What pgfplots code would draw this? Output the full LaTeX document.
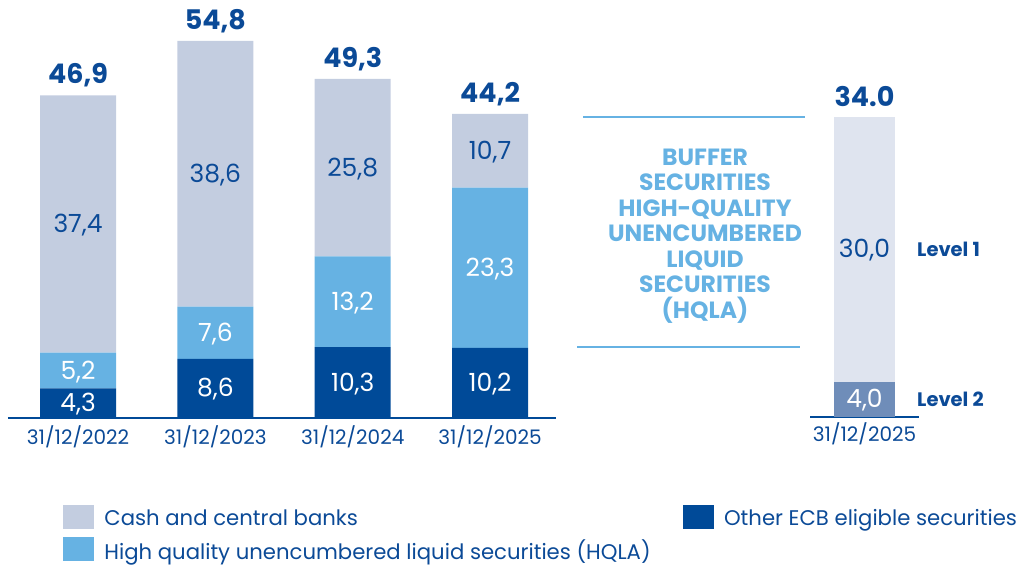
\documentclass[border=0pt]{standalone}
\usepackage{fontspec}
\setmainfont{Poppins}
\usepackage{pgfplots}
\pgfplotsset{compat=1.18}
\definecolor{cashc}{HTML}{C3CDE0}
\definecolor{hqlac}{HTML}{66B2E3}
\definecolor{ecbc}{HTML}{004A98}
\definecolor{lvlone}{HTML}{DFE4EF}
\definecolor{lvltwo}{HTML}{6F8DB9}
\definecolor{txtc}{HTML}{0B4A97}
\newcommand{\fs}[1]{\fontsize{#1}{#1}\selectfont}
\tikzset{
  seg/.style={anchor=base, yshift=-8.5pt, font=\fs{25}},
  tot/.style={anchor=mid, font=\fs{27}\bfseries, text=txtc},
}
\begin{document}
\begin{tikzpicture}
\path[use as bounding box] (0pt,0pt) rectangle (1036pt,565pt);
\begin{axis}[
  at={(8pt,147pt)}, anchor=south west,
  scale only axis, width=548pt, height=412.8pt,
  xmin=-0.51, xmax=3.48, ymin=0, ymax=60,
  ybar stacked, bar width=76pt,
  axis y line=none, axis x line=bottom,
  axis line style={-, draw=ecbc, line width=2.2pt},
  xtick={0,1,2,3},
  xticklabels={31/12/2022,31/12/2023,31/12/2024,31/12/2025},
  major tick length=0pt,
  xticklabel style={font=\fs{20}, text=txtc, anchor=base, yshift=-26pt, inner sep=0pt},
  ytick=\empty,
  clip=false,
  legend columns=2,
  legend cell align=left,
  legend style={at={(0.1004,-0.2108)}, anchor=north west, draw=none, fill=none,
    inner sep=0pt, outer sep=0pt, font=\fs{21.2}, text=txtc,
    column sep=11pt, row sep=9pt,
    nodes={inner sep=0pt, text depth=0pt},
    /tikz/every even column/.append style={column sep=32pt}},
  after end axis/.code={
    \node[seg, text=white] at (axis cs:0,2.15) {4,3};
    \node[seg, text=white] at (axis cs:0,6.9) {5,2};
    \node[seg, text=txtc] at (axis cs:0,28.2) {37,4};
    \node[seg, text=white] at (axis cs:1,4.3) {8,6};
    \node[seg, text=white] at (axis cs:1,12.4) {7,6};
    \node[seg, text=txtc] at (axis cs:1,35.5) {38,6};
    \node[seg, text=white] at (axis cs:2,5.15) {10,3};
    \node[seg, text=white] at (axis cs:2,16.9) {13,2};
    \node[seg, text=txtc] at (axis cs:2,36.4) {25,8};
    \node[seg, text=white] at (axis cs:3,5.1) {10,2};
    \node[seg, text=white] at (axis cs:3,21.85) {23,3};
    \node[seg, text=txtc] at (axis cs:3,38.85) {10,7};
  },
]
\addplot[fill=ecbc, draw=none, forget plot] coordinates {(0,4.3) (1,8.6) (2,10.3) (3,10.2)};
\addplot[fill=hqlac, draw=none, forget plot] coordinates {(0,5.2) (1,7.6) (2,13.2) (3,23.3)};
\addplot[fill=cashc, draw=none, forget plot] coordinates {(0,37.4) (1,38.6) (2,25.8) (3,10.7)};
\addlegendimage{legend image code/.code={\fill[cashc] (0pt,-11pt) rectangle (30pt,12pt);}}
\addlegendentry{Cash and central banks}
\addlegendimage{legend image code/.code={\fill[ecbc] (0pt,-11pt) rectangle (30pt,12pt);}}
\addlegendentry{Other ECB eligible securities}
\addlegendimage{legend image code/.code={\fill[hqlac] (0pt,-11pt) rectangle (30pt,12pt);}}
\addlegendentry{High quality unencumbered liquid securities (HQLA)}
% totals
\node[tot] at (axis cs:0,49.0) {46,9};
\node[tot] at (axis cs:1,56.9) {54,8};
\node[tot] at (axis cs:2,51.4) {49,3};
\node[tot] at (axis cs:3,46.3) {44,2};
\end{axis}

\begin{axis}[
  at={(810pt,148pt)}, anchor=south west,
  scale only axis, width=109pt, height=352.8pt,
  xmin=-0.5, xmax=0.5, ymin=0, ymax=40,
  ybar stacked, bar width=61pt,
  axis y line=none, axis x line=bottom,
  axis line style={-, draw=ecbc, line width=2.2pt},
  xtick={0}, xticklabels={31/12/2025},
  major tick length=0pt,
  xticklabel style={font=\fs{20}, text=txtc, anchor=base, yshift=-24pt, inner sep=0pt},
  ytick=\empty,
  clip=false,
  after end axis/.code={
    \node[seg, text=white] at (axis cs:0,2) {4,0};
    \node[seg, text=txtc] at (axis cs:0,19) {30,0};
  },
]
\addplot[fill=lvltwo, draw=none] coordinates {(0,4.0)};
\addplot[fill=lvlone, draw=none] coordinates {(0,30.0)};
\node[tot] at (axis cs:0,35.5) {34.0};
\node[text=txtc, font=\fs{19.5}\bfseries, anchor=mid west, inner sep=0pt] at ([xshift=-2pt]axis cs:0.5,18.5) {Level 1};
\node[text=txtc, font=\fs{19.5}\bfseries, anchor=mid west, inner sep=0pt] at ([xshift=-2pt]axis cs:0.5,1.5) {Level 2};
\end{axis}

\draw[hqlac, line width=1.2pt] (583pt,448pt) -- (805pt,448pt);
\draw[hqlac, line width=1.2pt] (577pt,218pt) -- (800pt,218pt);
\node[text=hqlac, align=center, font=\fontsize{23.5}{25.5}\selectfont\bfseries] at (705pt,329pt)
  {BUFFER\\SECURITIES\\HIGH-QUALITY\\UNENCUMBERED\\LIQUID\\SECURITIES\\(HQLA)};
\end{tikzpicture}
\end{document}
